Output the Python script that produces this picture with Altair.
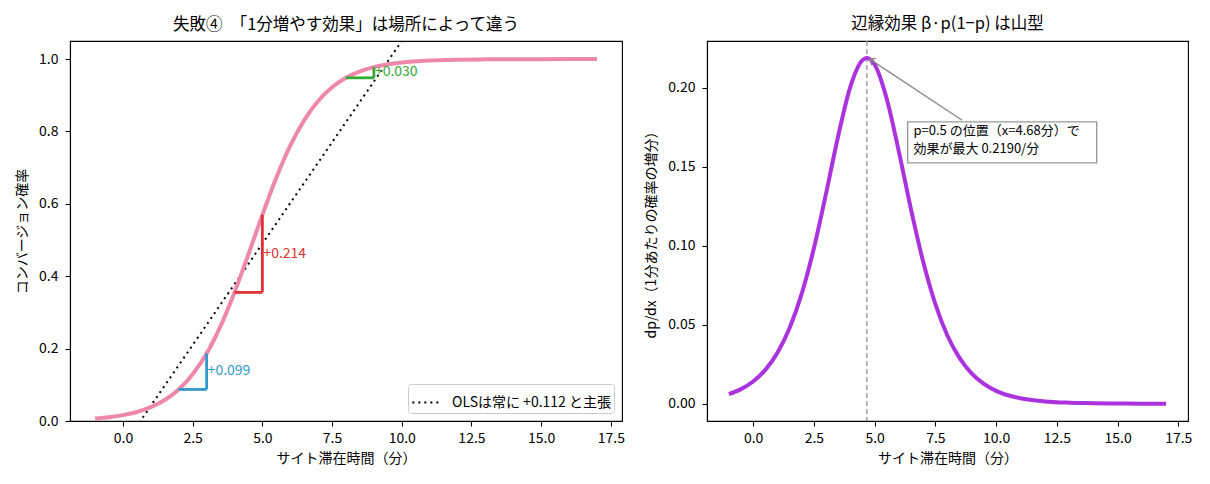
import altair as alt
import pandas as pd

FONT = "Noto Sans CJK JP"

# values
minutes = [-1, -0.5, 0, 0.5, 1, 1.5, 2, 2.5, 3, 3.5, 4, 4.5, 4.68, 5, 5.5, 6, 6.5,
           7, 7.5, 8, 8.5, 9, 9.5, 10, 11, 12, 13, 14, 15, 16, 17]
conv_prob = [0.0069, 0.0106, 0.0163, 0.0250, 0.0383, 0.0581, 0.0872, 0.1290, 0.1866,
             0.2623, 0.3553, 0.4606, 0.5000, 0.5695, 0.6722, 0.7606, 0.8312, 0.8841,
             0.9220, 0.9482, 0.9660, 0.9778, 0.9855, 0.9906, 0.9961, 0.9984, 0.9993,
             0.9997, 0.9999, 1.0, 1.0]
marginal = [0.0060, 0.0092, 0.0140, 0.0214, 0.0323, 0.0479, 0.0697, 0.0984, 0.1330,
            0.1695, 0.2007, 0.2176, 0.2190, 0.2148, 0.1930, 0.1595, 0.1229, 0.0898,
            0.0630, 0.0430, 0.0288, 0.0190, 0.0125, 0.0081, 0.0034, 0.0014, 0.0006,
            0.0003, 0.0001, 0.0, 0.0]

ols_label = "OLSは常に +0.112 と主張"
ols_x = [-1, 17]
ols_y = [-0.182, 1.834]

step_from = [2, 4, 8]
step_to = [3, 5, 9]
step_p0 = [0.0872, 0.3553, 0.9482]
step_p1 = [0.1866, 0.5695, 0.9778]
step_text = ["+0.099", "+0.214", "+0.030"]
step_color = ["#3399cc", "#e03333", "#33aa33"]

peak_x = 4.68
peak_y = 0.2190
note_lines = ["p=0.5 の位置（x=4.68分）で", "効果が最大 0.2190/分"]

curve = pd.DataFrame({"x": minutes, "p": conv_prob, "dp": marginal})
ols = pd.DataFrame({"x": ols_x, "y": ols_y, "label": ols_label})
steps = pd.DataFrame({"x0": step_from, "x1": step_to, "y0": step_p0, "y1": step_p1,
                      "txt": step_text, "c": step_color})
steps["ym"] = (steps["y0"] + steps["y1"]) / 2
one = pd.DataFrame({"k": [0]})

xticks = [0, 2.5, 5, 7.5, 10, 12.5, 15, 17.5]
x_scale = alt.Scale(domain=[-1.9, 17.9], nice=False, zero=False)
x_axis = alt.Axis(values=xticks, format=".1f", title="サイト滞在時間（分）",
                  labelPadding=5, titlePadding=6)

# -----------------------
# left: logistic curve with unit steps
# -----------------------
y_left = alt.Scale(domain=[0, 1.05], nice=False)

logit_line = alt.Chart(curve).mark_line(color="#ee88aa", strokeWidth=4, interpolate="monotone").encode(
    x=alt.X("x:Q", scale=x_scale, axis=x_axis),
    y=alt.Y("p:Q", scale=y_left,
            axis=alt.Axis(values=[0, 0.2, 0.4, 0.6, 0.8, 1.0], format=".1f",
                          title="コンバージョン確率")),
)

ols_line = alt.Chart(ols).mark_line(color="black", strokeWidth=2, clip=True).encode(
    x="x:Q",
    y="y:Q",
    strokeDash=alt.StrokeDash(
        "label:N",
        scale=alt.Scale(domain=[ols_label], range=[[2, 4]]),
        legend=alt.Legend(
            title=None, orient="bottom-right", offset=8, symbolType="stroke",
            symbolStrokeColor="black", symbolStrokeWidth=2, symbolSize=800,
            fillColor="white", strokeColor="#cccccc", cornerRadius=3, padding=3,
            labelFontSize=14, labelFont=FONT, labelColor="black", labelOffset=10,
        ),
    ),
)

step_h = alt.Chart(steps).mark_rule(strokeWidth=2.8).encode(
    x="x0:Q", x2="x1:Q", y="y0:Q", color=alt.Color("c:N", scale=None)
)
step_v = alt.Chart(steps).mark_rule(strokeWidth=2.8).encode(
    x="x1:Q", y="y0:Q", y2="y1:Q", color=alt.Color("c:N", scale=None)
)
step_lbl = alt.Chart(steps).mark_text(align="left", baseline="middle", dx=1,
                                      fontSize=14, font=FONT).encode(
    x="x1:Q", y="ym:Q", text="txt:N", color=alt.Color("c:N", scale=None)
)

left = alt.layer(ols_line, logit_line, step_h, step_v, step_lbl).properties(
    width=552, height=380,
    title="失敗④　「1分増やす効果」は場所によって違う",
)

# -----------------------
# right: marginal effect
# -----------------------
y_right = alt.Scale(domain=[-0.011, 0.2297], nice=False, zero=False)

vline = alt.Chart(one).mark_rule(color="#999999", strokeDash=[5, 3], strokeWidth=1.4).encode(
    x=alt.datum(peak_x, type="quantitative")
)
bump = alt.Chart(curve).mark_line(color="#aa33dd", strokeWidth=4, interpolate="monotone").encode(
    x=alt.X("x:Q", scale=x_scale, axis=x_axis),
    y=alt.Y("dp:Q", scale=y_right,
            axis=alt.Axis(values=[0, 0.05, 0.1, 0.15, 0.2], format=".2f",
                          title="dp/dx（1分あたりの確率の増分）")),
)
arrow = alt.Chart(one).mark_rule(color="#888888", strokeWidth=1.3).encode(
    x=alt.datum(8.6), y=alt.datum(0.1795), x2=alt.datum(peak_x + 0.12), y2=alt.datum(peak_y - 0.0008)
)
arrow_head = alt.Chart(one).mark_point(
    shape="M-1,1.2L0,0L1,1.2", filled=False, color="#888888", strokeWidth=1.3,
    size=70, angle=302.6, opacity=1,
).encode(x=alt.datum(peak_x + 0.12), y=alt.datum(peak_y - 0.0008))
box = alt.Chart(one).mark_rect(fill="white", stroke="#999999", strokeWidth=1.4).encode(
    x=alt.datum(6.36), x2=alt.datum(14.14), y=alt.datum(0.1785), y2=alt.datum(0.1525)
)
note1 = alt.Chart(one).mark_text(
    align="left", baseline="middle", fontSize=13, font=FONT, color="black", text=note_lines[0]
).encode(x=alt.datum(6.6), y=alt.datum(0.1726))
note2 = alt.Chart(one).mark_text(
    align="left", baseline="middle", fontSize=13, font=FONT, color="black", text=note_lines[1]
).encode(x=alt.datum(6.6), y=alt.datum(0.1610))

right = alt.layer(vline, bump, arrow, arrow_head, box, note1, note2).properties(
    width=481, height=380,
    title="辺縁効果 β·p(1−p) は山型",
)

chart = (
    alt.hconcat(left, right, spacing=19, background="white",
                padding={"left": 7, "top": 7, "right": 5, "bottom": 5})
    .resolve_legend(strokeDash="independent")
    .configure_view(stroke="black", strokeWidth=1.1)
    .configure_axis(
        labelFont=FONT, titleFont=FONT, labelFontSize=14, titleFontSize=14,
        titleFontWeight="normal", labelColor="black", titleColor="black",
        domainColor="black", domainWidth=1.1, tickColor="black", tickWidth=1.1,
        tickSize=5, grid=False, labelPadding=7, titlePadding=9,
    )
    .configure_title(font=FONT, fontSize=16.5, fontWeight="normal", color="black", offset=8)
)

chart.save("out.html", embed_options={"renderer": "svg", "actions": False})
